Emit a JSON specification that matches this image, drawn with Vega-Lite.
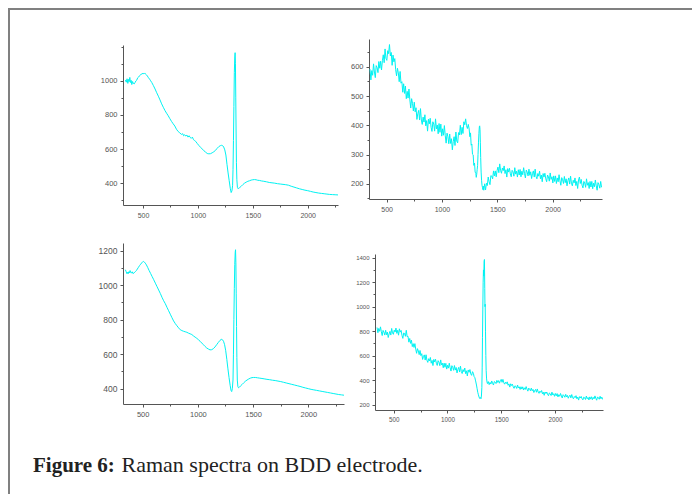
{
"$schema": "https://vega.github.io/schema/vega-lite/v6.json",
"background": "white",
"padding": {"left": 8, "top": 8, "right": 0, "bottom": 0},
"config": {
  "view": {"stroke": null},
  "numberFormat": "d",
  "axis": {"domainColor": "#555", "tickColor": "#555", "labelColor": "#555", "labelFont": "Liberation Sans", "grid": false, "title": null, "tickSize": 3, "labelPadding": 3, "domainWidth": 1, "tickWidth": 1}
},
"datasets": {
"a": [{"x":340,"y":1005},{"x":348,"y":992},{"x":355,"y":1012},{"x":362,"y":985},{"x":368,"y":1008},{"x":374,"y":995},{"x":380,"y":1020},{"x":386,"y":990},{"x":392,"y":1003},{"x":398,"y":978},{"x":405,"y":996},{"x":412,"y":985},{"x":420,"y":982},{"x":428,"y":990},{"x":436,"y":1000},{"x":444,"y":1005},{"x":452,"y":1018},{"x":460,"y":1022},{"x":470,"y":1030},{"x":480,"y":1038},{"x":490,"y":1040},{"x":500,"y":1044},{"x":508,"y":1041},{"x":515,"y":1046},{"x":522,"y":1040},{"x":530,"y":1036},{"x":540,"y":1028},{"x":550,"y":1018},{"x":560,"y":1010},{"x":570,"y":1000},{"x":580,"y":990},{"x":595,"y":972},{"x":610,"y":952},{"x":625,"y":930},{"x":640,"y":910},{"x":655,"y":888},{"x":670,"y":865},{"x":685,"y":845},{"x":700,"y":826},{"x":715,"y":810},{"x":730,"y":795},{"x":745,"y":778},{"x":760,"y":762},{"x":775,"y":748},{"x":790,"y":735},{"x":805,"y":716},{"x":820,"y":703},{"x":835,"y":695},{"x":850,"y":686},{"x":862,"y":690},{"x":870,"y":678},{"x":880,"y":684},{"x":890,"y":676},{"x":900,"y":682},{"x":910,"y":670},{"x":920,"y":678},{"x":930,"y":668},{"x":940,"y":663},{"x":950,"y":670},{"x":960,"y":655},{"x":970,"y":650},{"x":980,"y":645},{"x":995,"y":632},{"x":1010,"y":620},{"x":1025,"y":610},{"x":1040,"y":600},{"x":1055,"y":590},{"x":1070,"y":582},{"x":1085,"y":574},{"x":1100,"y":572},{"x":1115,"y":573},{"x":1130,"y":578},{"x":1145,"y":584},{"x":1160,"y":592},{"x":1175,"y":604},{"x":1190,"y":614},{"x":1205,"y":620},{"x":1215,"y":622},{"x":1225,"y":620},{"x":1235,"y":612},{"x":1245,"y":595},{"x":1255,"y":565},{"x":1265,"y":510},{"x":1275,"y":460},{"x":1285,"y":415},{"x":1295,"y":370},{"x":1303,"y":345},{"x":1310,"y":355},{"x":1316,"y":385},{"x":1320,"y":480},{"x":1324,"y":650},{"x":1328,"y":850},{"x":1332,"y":1050},{"x":1336,"y":1140},{"x":1339,"y":1165},{"x":1342,"y":1100},{"x":1345,"y":900},{"x":1348,"y":700},{"x":1351,"y":520},{"x":1355,"y":420},{"x":1360,"y":375},{"x":1365,"y":368},{"x":1372,"y":370},{"x":1380,"y":374},{"x":1395,"y":382},{"x":1410,"y":392},{"x":1425,"y":400},{"x":1440,"y":406},{"x":1455,"y":411},{"x":1470,"y":414},{"x":1485,"y":418},{"x":1500,"y":420},{"x":1515,"y":421},{"x":1530,"y":420},{"x":1545,"y":417},{"x":1560,"y":416},{"x":1580,"y":413},{"x":1600,"y":411},{"x":1625,"y":408},{"x":1650,"y":404},{"x":1675,"y":402},{"x":1700,"y":400},{"x":1725,"y":397},{"x":1750,"y":395},{"x":1775,"y":393},{"x":1800,"y":391},{"x":1825,"y":388},{"x":1850,"y":382},{"x":1875,"y":377},{"x":1900,"y":372},{"x":1925,"y":367},{"x":1950,"y":363},{"x":1975,"y":359},{"x":2000,"y":356},{"x":2025,"y":352},{"x":2050,"y":348},{"x":2075,"y":345},{"x":2100,"y":342},{"x":2125,"y":340},{"x":2150,"y":338},{"x":2175,"y":336},{"x":2200,"y":334},{"x":2225,"y":333},{"x":2250,"y":332},{"x":2276,"y":331}],
"b": [{"x":350,"y":592},{"x":358,"y":555},{"x":366,"y":587},{"x":374,"y":571},{"x":382,"y":610},{"x":390,"y":582},{"x":398,"y":563},{"x":406,"y":604},{"x":414,"y":597},{"x":422,"y":580},{"x":430,"y":618},{"x":438,"y":595},{"x":446,"y":619},{"x":454,"y":589},{"x":462,"y":621},{"x":470,"y":641},{"x":478,"y":614},{"x":486,"y":661},{"x":494,"y":629},{"x":502,"y":622},{"x":510,"y":655},{"x":518,"y":645},{"x":526,"y":676},{"x":534,"y":637},{"x":542,"y":649},{"x":550,"y":605},{"x":558,"y":640},{"x":566,"y":617},{"x":574,"y":628},{"x":582,"y":590},{"x":590,"y":569},{"x":598,"y":595},{"x":606,"y":579},{"x":614,"y":549},{"x":622,"y":584},{"x":630,"y":544},{"x":638,"y":549},{"x":646,"y":513},{"x":654,"y":542},{"x":662,"y":509},{"x":670,"y":534},{"x":678,"y":491},{"x":686,"y":516},{"x":694,"y":493},{"x":702,"y":524},{"x":710,"y":487},{"x":718,"y":459},{"x":726,"y":491},{"x":734,"y":475},{"x":742,"y":449},{"x":750,"y":479},{"x":758,"y":446},{"x":766,"y":460},{"x":774,"y":420},{"x":782,"y":440},{"x":790,"y":451},{"x":798,"y":418},{"x":806,"y":457},{"x":814,"y":418},{"x":822,"y":403},{"x":830,"y":428},{"x":838,"y":411},{"x":846,"y":436},{"x":854,"y":398},{"x":862,"y":416},{"x":870,"y":380},{"x":878,"y":421},{"x":886,"y":405},{"x":894,"y":424},{"x":902,"y":393},{"x":910,"y":379},{"x":918,"y":412},{"x":926,"y":404},{"x":934,"y":380},{"x":942,"y":422},{"x":950,"y":388},{"x":958,"y":401},{"x":966,"y":371},{"x":974,"y":406},{"x":982,"y":376},{"x":990,"y":404},{"x":998,"y":363},{"x":1006,"y":388},{"x":1014,"y":366},{"x":1022,"y":399},{"x":1030,"y":364},{"x":1038,"y":339},{"x":1046,"y":373},{"x":1054,"y":361},{"x":1062,"y":337},{"x":1070,"y":370},{"x":1078,"y":338},{"x":1086,"y":354},{"x":1094,"y":316},{"x":1102,"y":344},{"x":1110,"y":361},{"x":1118,"y":331},{"x":1126,"y":377},{"x":1134,"y":346},{"x":1142,"y":340},{"x":1150,"y":375},{"x":1158,"y":367},{"x":1166,"y":400},{"x":1174,"y":368},{"x":1182,"y":393},{"x":1190,"y":372},{"x":1198,"y":412},{"x":1206,"y":402},{"x":1214,"y":422},{"x":1222,"y":399},{"x":1230,"y":389},{"x":1238,"y":403},{"x":1246,"y":387},{"x":1252,"y":361},{"x":1258,"y":374},{"x":1264,"y":332},{"x":1270,"y":336},{"x":1276,"y":301},{"x":1282,"y":299},{"x":1288,"y":263},{"x":1294,"y":271},{"x":1300,"y":240},{"x":1306,"y":236},{"x":1310,"y":222},{"x":1314,"y":232},{"x":1318,"y":248},{"x":1322,"y":262},{"x":1326,"y":300},{"x":1330,"y":340},{"x":1334,"y":372},{"x":1338,"y":395},{"x":1341,"y":398},{"x":1344,"y":385},{"x":1347,"y":340},{"x":1350,"y":290},{"x":1354,"y":240},{"x":1358,"y":212},{"x":1362,"y":195},{"x":1366,"y":188},{"x":1370,"y":180},{"x":1374,"y":192},{"x":1378,"y":178},{"x":1386,"y":200},{"x":1394,"y":179},{"x":1402,"y":202},{"x":1410,"y":194},{"x":1418,"y":223},{"x":1426,"y":207},{"x":1434,"y":197},{"x":1442,"y":228},{"x":1450,"y":226},{"x":1458,"y":217},{"x":1466,"y":244},{"x":1474,"y":227},{"x":1482,"y":244},{"x":1490,"y":224},{"x":1498,"y":245},{"x":1506,"y":257},{"x":1514,"y":238},{"x":1522,"y":268},{"x":1530,"y":245},{"x":1538,"y":236},{"x":1546,"y":254},{"x":1554,"y":245},{"x":1562,"y":261},{"x":1570,"y":235},{"x":1578,"y":248},{"x":1586,"y":223},{"x":1594,"y":252},{"x":1602,"y":240},{"x":1610,"y":253},{"x":1618,"y":234},{"x":1626,"y":224},{"x":1634,"y":246},{"x":1642,"y":241},{"x":1650,"y":226},{"x":1658,"y":255},{"x":1666,"y":233},{"x":1674,"y":243},{"x":1682,"y":223},{"x":1690,"y":248},{"x":1698,"y":230},{"x":1706,"y":249},{"x":1714,"y":224},{"x":1722,"y":243},{"x":1730,"y":231},{"x":1738,"y":255},{"x":1746,"y":235},{"x":1754,"y":220},{"x":1762,"y":247},{"x":1770,"y":240},{"x":1778,"y":227},{"x":1786,"y":250},{"x":1794,"y":229},{"x":1802,"y":241},{"x":1810,"y":218},{"x":1818,"y":235},{"x":1826,"y":244},{"x":1834,"y":223},{"x":1842,"y":250},{"x":1850,"y":225},{"x":1858,"y":217},{"x":1866,"y":235},{"x":1874,"y":226},{"x":1882,"y":243},{"x":1890,"y":217},{"x":1898,"y":230},{"x":1906,"y":207},{"x":1914,"y":235},{"x":1922,"y":223},{"x":1930,"y":236},{"x":1938,"y":217},{"x":1946,"y":207},{"x":1954,"y":230},{"x":1962,"y":224},{"x":1970,"y":209},{"x":1978,"y":237},{"x":1986,"y":215},{"x":1994,"y":224},{"x":2002,"y":203},{"x":2010,"y":227},{"x":2018,"y":208},{"x":2026,"y":227},{"x":2034,"y":201},{"x":2042,"y":220},{"x":2050,"y":207},{"x":2058,"y":231},{"x":2066,"y":210},{"x":2074,"y":195},{"x":2082,"y":221},{"x":2090,"y":214},{"x":2098,"y":201},{"x":2106,"y":225},{"x":2114,"y":204},{"x":2122,"y":217},{"x":2130,"y":193},{"x":2138,"y":211},{"x":2146,"y":220},{"x":2154,"y":199},{"x":2162,"y":226},{"x":2170,"y":202},{"x":2178,"y":193},{"x":2186,"y":212},{"x":2194,"y":203},{"x":2202,"y":220},{"x":2210,"y":194},{"x":2218,"y":208},{"x":2226,"y":184},{"x":2234,"y":213},{"x":2242,"y":223},{"x":2250,"y":201},{"x":2258,"y":215},{"x":2266,"y":195},{"x":2274,"y":186},{"x":2282,"y":208},{"x":2290,"y":203},{"x":2298,"y":188},{"x":2306,"y":217},{"x":2314,"y":195},{"x":2322,"y":204},{"x":2330,"y":184},{"x":2338,"y":208},{"x":2346,"y":189},{"x":2354,"y":208},{"x":2362,"y":183},{"x":2370,"y":202},{"x":2378,"y":190},{"x":2386,"y":213},{"x":2394,"y":193},{"x":2402,"y":178},{"x":2410,"y":204},{"x":2418,"y":197},{"x":2426,"y":185},{"x":2434,"y":208},{"x":2442,"y":188}],
"c": [{"x":343,"y":1090},{"x":350,"y":1080},{"x":356,"y":1068},{"x":362,"y":1075},{"x":368,"y":1066},{"x":374,"y":1078},{"x":380,"y":1072},{"x":386,"y":1085},{"x":392,"y":1074},{"x":398,"y":1070},{"x":405,"y":1078},{"x":412,"y":1068},{"x":420,"y":1070},{"x":428,"y":1076},{"x":436,"y":1080},{"x":444,"y":1086},{"x":452,"y":1094},{"x":462,"y":1104},{"x":472,"y":1114},{"x":482,"y":1122},{"x":492,"y":1130},{"x":500,"y":1136},{"x":508,"y":1138},{"x":516,"y":1134},{"x":524,"y":1128},{"x":534,"y":1118},{"x":545,"y":1104},{"x":558,"y":1086},{"x":572,"y":1068},{"x":586,"y":1050},{"x":600,"y":1032},{"x":615,"y":1012},{"x":630,"y":992},{"x":645,"y":972},{"x":660,"y":952},{"x":675,"y":930},{"x":690,"y":910},{"x":705,"y":893},{"x":720,"y":872},{"x":735,"y":852},{"x":750,"y":832},{"x":765,"y":812},{"x":780,"y":793},{"x":795,"y":778},{"x":810,"y":765},{"x":825,"y":753},{"x":840,"y":742},{"x":855,"y":737},{"x":870,"y":733},{"x":885,"y":730},{"x":900,"y":727},{"x":915,"y":722},{"x":930,"y":718},{"x":945,"y":714},{"x":960,"y":706},{"x":975,"y":699},{"x":990,"y":692},{"x":1005,"y":684},{"x":1020,"y":675},{"x":1035,"y":665},{"x":1050,"y":655},{"x":1065,"y":645},{"x":1080,"y":636},{"x":1095,"y":630},{"x":1110,"y":625},{"x":1125,"y":626},{"x":1140,"y":632},{"x":1155,"y":642},{"x":1170,"y":655},{"x":1185,"y":668},{"x":1200,"y":680},{"x":1212,"y":686},{"x":1222,"y":684},{"x":1232,"y":675},{"x":1242,"y":655},{"x":1252,"y":620},{"x":1262,"y":570},{"x":1272,"y":515},{"x":1282,"y":465},{"x":1292,"y":420},{"x":1300,"y":390},{"x":1306,"y":383},{"x":1312,"y":400},{"x":1318,"y":450},{"x":1322,"y":600},{"x":1326,"y":800},{"x":1330,"y":980},{"x":1334,"y":1120},{"x":1338,"y":1190},{"x":1341,"y":1206},{"x":1344,"y":1130},{"x":1347,"y":950},{"x":1350,"y":760},{"x":1353,"y":580},{"x":1357,"y":450},{"x":1362,"y":412},{"x":1368,"y":405},{"x":1375,"y":408},{"x":1385,"y":415},{"x":1400,"y":424},{"x":1415,"y":434},{"x":1430,"y":443},{"x":1445,"y":450},{"x":1460,"y":456},{"x":1475,"y":461},{"x":1490,"y":464},{"x":1505,"y":465},{"x":1520,"y":465},{"x":1540,"y":463},{"x":1560,"y":461},{"x":1580,"y":459},{"x":1600,"y":457},{"x":1625,"y":454},{"x":1650,"y":452},{"x":1675,"y":449},{"x":1700,"y":447},{"x":1725,"y":444},{"x":1750,"y":441},{"x":1775,"y":437},{"x":1800,"y":433},{"x":1825,"y":429},{"x":1850,"y":425},{"x":1875,"y":421},{"x":1900,"y":417},{"x":1925,"y":413},{"x":1950,"y":408},{"x":1975,"y":404},{"x":2000,"y":400},{"x":2025,"y":396},{"x":2050,"y":393},{"x":2075,"y":390},{"x":2100,"y":387},{"x":2125,"y":384},{"x":2150,"y":381},{"x":2175,"y":378},{"x":2200,"y":375},{"x":2225,"y":372},{"x":2250,"y":369},{"x":2275,"y":366},{"x":2300,"y":364},{"x":2323,"y":362}],
"d": [{"x":345,"y":830},{"x":353,"y":787},{"x":361,"y":822},{"x":369,"y":799},{"x":377,"y":835},{"x":385,"y":795},{"x":393,"y":764},{"x":401,"y":806},{"x":409,"y":792},{"x":417,"y":768},{"x":425,"y":807},{"x":433,"y":771},{"x":441,"y":792},{"x":449,"y":748},{"x":457,"y":777},{"x":465,"y":798},{"x":473,"y":768},{"x":481,"y":822},{"x":489,"y":786},{"x":497,"y":774},{"x":505,"y":808},{"x":513,"y":793},{"x":521,"y":825},{"x":529,"y":782},{"x":537,"y":807},{"x":545,"y":767},{"x":553,"y":819},{"x":561,"y":792},{"x":569,"y":806},{"x":577,"y":765},{"x":585,"y":741},{"x":593,"y":785},{"x":601,"y":781},{"x":609,"y":758},{"x":617,"y":807},{"x":625,"y":755},{"x":633,"y":758},{"x":641,"y":710},{"x":649,"y":740},{"x":657,"y":700},{"x":665,"y":726},{"x":673,"y":674},{"x":681,"y":698},{"x":689,"y":667},{"x":697,"y":698},{"x":705,"y":653},{"x":713,"y":619},{"x":721,"y":657},{"x":729,"y":638},{"x":737,"y":608},{"x":745,"y":642},{"x":753,"y":600},{"x":761,"y":616},{"x":769,"y":569},{"x":777,"y":594},{"x":785,"y":606},{"x":793,"y":564},{"x":801,"y":607},{"x":809,"y":562},{"x":817,"y":545},{"x":825,"y":575},{"x":833,"y":557},{"x":841,"y":585},{"x":849,"y":538},{"x":857,"y":561},{"x":865,"y":519},{"x":873,"y":569},{"x":881,"y":549},{"x":889,"y":571},{"x":897,"y":537},{"x":905,"y":520},{"x":913,"y":559},{"x":921,"y":547},{"x":929,"y":518},{"x":937,"y":565},{"x":945,"y":524},{"x":953,"y":538},{"x":961,"y":501},{"x":969,"y":539},{"x":977,"y":505},{"x":985,"y":537},{"x":993,"y":490},{"x":1001,"y":521},{"x":1009,"y":498},{"x":1017,"y":538},{"x":1025,"y":501},{"x":1033,"y":474},{"x":1041,"y":518},{"x":1049,"y":504},{"x":1057,"y":480},{"x":1065,"y":519},{"x":1073,"y":482},{"x":1081,"y":503},{"x":1089,"y":459},{"x":1097,"y":488},{"x":1105,"y":504},{"x":1113,"y":466},{"x":1121,"y":514},{"x":1129,"y":470},{"x":1137,"y":454},{"x":1145,"y":486},{"x":1153,"y":469},{"x":1161,"y":499},{"x":1169,"y":453},{"x":1177,"y":476},{"x":1185,"y":434},{"x":1193,"y":483},{"x":1201,"y":464},{"x":1209,"y":486},{"x":1217,"y":451},{"x":1225,"y":439},{"x":1233,"y":469},{"x":1241,"y":456},{"x":1248,"y":428},{"x":1255,"y":420},{"x":1260,"y":400},{"x":1264,"y":385},{"x":1270,"y":360},{"x":1276,"y":330},{"x":1282,"y":300},{"x":1288,"y":280},{"x":1294,"y":262},{"x":1300,"y":250},{"x":1306,"y":258},{"x":1312,"y":248},{"x":1316,"y":270},{"x":1320,"y":340},{"x":1323,"y":500},{"x":1326,"y":750},{"x":1329,"y":980},{"x":1332,"y":1200},{"x":1335,"y":1300},{"x":1338,"y":1250},{"x":1341,"y":1370},{"x":1344,"y":1385},{"x":1347,"y":1150},{"x":1349,"y":1000},{"x":1351,"y":1020},{"x":1354,"y":800},{"x":1357,"y":600},{"x":1360,"y":480},{"x":1364,"y":410},{"x":1368,"y":385},{"x":1372,"y":372},{"x":1380,"y":388},{"x":1388,"y":363},{"x":1396,"y":381},{"x":1404,"y":368},{"x":1412,"y":393},{"x":1420,"y":374},{"x":1428,"y":360},{"x":1436,"y":388},{"x":1444,"y":383},{"x":1452,"y":372},{"x":1460,"y":398},{"x":1468,"y":381},{"x":1476,"y":396},{"x":1484,"y":375},{"x":1492,"y":395},{"x":1500,"y":406},{"x":1508,"y":382},{"x":1516,"y":406},{"x":1524,"y":379},{"x":1532,"y":367},{"x":1540,"y":383},{"x":1548,"y":372},{"x":1556,"y":386},{"x":1564,"y":358},{"x":1572,"y":369},{"x":1580,"y":343},{"x":1588,"y":370},{"x":1596,"y":356},{"x":1604,"y":367},{"x":1612,"y":345},{"x":1620,"y":333},{"x":1628,"y":354},{"x":1636,"y":348},{"x":1644,"y":332},{"x":1652,"y":360},{"x":1660,"y":336},{"x":1668,"y":345},{"x":1676,"y":324},{"x":1684,"y":346},{"x":1692,"y":327},{"x":1700,"y":345},{"x":1708,"y":319},{"x":1716,"y":337},{"x":1724,"y":324},{"x":1732,"y":347},{"x":1740,"y":326},{"x":1748,"y":310},{"x":1756,"y":335},{"x":1764,"y":326},{"x":1772,"y":313},{"x":1780,"y":335},{"x":1788,"y":313},{"x":1796,"y":324},{"x":1804,"y":299},{"x":1812,"y":316},{"x":1820,"y":324},{"x":1828,"y":301},{"x":1836,"y":328},{"x":1844,"y":302},{"x":1852,"y":292},{"x":1860,"y":310},{"x":1868,"y":300},{"x":1876,"y":315},{"x":1884,"y":288},{"x":1892,"y":301},{"x":1900,"y":276},{"x":1908,"y":303},{"x":1916,"y":291},{"x":1924,"y":303},{"x":1932,"y":282},{"x":1940,"y":273},{"x":1948,"y":295},{"x":1956,"y":289},{"x":1964,"y":274},{"x":1972,"y":302},{"x":1980,"y":279},{"x":1988,"y":289},{"x":1996,"y":268},{"x":2004,"y":291},{"x":2012,"y":272},{"x":2020,"y":290},{"x":2028,"y":263},{"x":2036,"y":281},{"x":2044,"y":268},{"x":2052,"y":291},{"x":2060,"y":270},{"x":2068,"y":254},{"x":2076,"y":281},{"x":2084,"y":273},{"x":2092,"y":260},{"x":2100,"y":284},{"x":2108,"y":263},{"x":2116,"y":275},{"x":2124,"y":252},{"x":2132,"y":268},{"x":2140,"y":277},{"x":2148,"y":255},{"x":2156,"y":282},{"x":2164,"y":257},{"x":2172,"y":248},{"x":2180,"y":266},{"x":2188,"y":257},{"x":2196,"y":273},{"x":2204,"y":248},{"x":2212,"y":261},{"x":2220,"y":237},{"x":2228,"y":265},{"x":2236,"y":254},{"x":2244,"y":267},{"x":2252,"y":248},{"x":2260,"y":239},{"x":2268,"y":261},{"x":2276,"y":256},{"x":2284,"y":242},{"x":2292,"y":270},{"x":2300,"y":248},{"x":2308,"y":258},{"x":2316,"y":238},{"x":2324,"y":263},{"x":2332,"y":245},{"x":2340,"y":264},{"x":2348,"y":240},{"x":2356,"y":259},{"x":2364,"y":247},{"x":2372,"y":271},{"x":2380,"y":251},{"x":2388,"y":236},{"x":2396,"y":263},{"x":2404,"y":256},{"x":2412,"y":244},{"x":2420,"y":268},{"x":2428,"y":248},{"x":2436,"y":261},{"x":2444,"y":242}]
},
"vconcat": [
 {"hconcat": [
  {"width": 1, "height": 1, "data": {"values": [{}]}, "mark": {"type": "text", "text": ""}, "encoding": {}},
  {"hconcat": [
   {"vconcat": [
    {"width": 1, "height": 1, "data": {"values": [{}]}, "mark": {"type": "text", "text": ""}, "encoding": {}},
    {"vconcat": [
     {"width": 215, "height": 160, "data": {"name": "a"},
      "layer": [
       {"mark": {"type": "line", "color": "#00f2f2", "strokeWidth": 1, "clip": true},
        "encoding": {
         "x": {"field": "x", "type": "quantitative", "scale": {"domain": [318, 2276], "nice": false, "zero": false}, "axis": {"values": [500, 1000, 1500, 2000], "labelFontSize": 7}},
         "y": {"field": "y", "type": "quantitative", "scale": {"domain": [272, 1210], "nice": false, "zero": false}, "axis": {"values": [400, 600, 800, 1000], "labelFontSize": 7.5}}}},
       {"mark": {"type": "line", "opacity": 0},
        "encoding": {
         "x": {"field": "x", "type": "quantitative", "scale": {"domain": [318, 2276], "nice": false, "zero": false}, "axis": {"values": [750, 1250, 1750, 2250], "labels": false, "domain": false, "tickSize": 2, "orient": "bottom"}},
         "y": {"field": "y", "type": "quantitative", "scale": {"domain": [272, 1210], "nice": false, "zero": false}, "axis": {"values": [300, 500, 700, 900, 1100, 1200], "labels": false, "domain": false, "tickSize": 2, "orient": "left"}}}}
      ],
      "resolve": {"axis": {"x": "independent", "y": "independent"}}},
     {"width": 221, "height": 161, "data": {"name": "c"},
      "layer": [
       {"mark": {"type": "line", "color": "#00f2f2", "strokeWidth": 1, "clip": true},
        "encoding": {
         "x": {"field": "x", "type": "quantitative", "scale": {"domain": [322, 2323], "nice": false, "zero": false}, "axis": {"values": [500, 1000, 1500, 2000], "labelFontSize": 7.5}},
         "y": {"field": "y", "type": "quantitative", "scale": {"domain": [311, 1245], "nice": false, "zero": false}, "axis": {"values": [400, 600, 800, 1000, 1200], "labelFontSize": 8.5}}}},
       {"mark": {"type": "line", "opacity": 0},
        "encoding": {
         "x": {"field": "x", "type": "quantitative", "scale": {"domain": [322, 2323], "nice": false, "zero": false}, "axis": {"values": [750, 1250, 1750, 2250], "labels": false, "domain": false, "tickSize": 2, "orient": "bottom"}},
         "y": {"field": "y", "type": "quantitative", "scale": {"domain": [311, 1245], "nice": false, "zero": false}, "axis": {"values": [500, 700, 900, 1100], "labels": false, "domain": false, "tickSize": 2, "orient": "left"}}}}
      ],
      "resolve": {"axis": {"x": "independent", "y": "independent"}}}
    ], "spacing": 25}
   ], "spacing": 0, "align": "none"},
   {"vconcat": [
    {"width": 233, "height": 160, "data": {"name": "b"},
     "layer": [
      {"mark": {"type": "line", "color": "#00f2f2", "strokeWidth": 1, "clip": true},
       "encoding": {
        "x": {"field": "x", "type": "quantitative", "scale": {"domain": [341, 2446], "nice": false, "zero": false}, "axis": {"values": [500, 1000, 1500, 2000], "labelFontSize": 7}},
        "y": {"field": "y", "type": "quantitative", "scale": {"domain": [148, 695], "nice": false, "zero": false}, "axis": {"values": [200, 300, 400, 500, 600], "labelFontSize": 7.5}}}},
      {"mark": {"type": "line", "opacity": 0},
       "encoding": {
        "x": {"field": "x", "type": "quantitative", "scale": {"domain": [341, 2446], "nice": false, "zero": false}, "axis": {"values": [750, 1250, 1750, 2250], "labels": false, "domain": false, "tickSize": 2, "orient": "bottom"}},
        "y": {"field": "y", "type": "quantitative", "scale": {"domain": [148, 695], "nice": false, "zero": false}, "axis": {"values": [150, 250, 350, 450, 550, 650], "labels": false, "domain": false, "tickSize": 2, "orient": "left"}}}}
     ],
     "resolve": {"axis": {"x": "independent", "y": "independent"}}},
    {"hconcat": [
     {"width": 1, "height": 1, "data": {"values": [{}]}, "mark": {"type": "text", "text": ""}, "encoding": {}},
     {"width": 228, "height": 156, "data": {"name": "d"},
      "layer": [
       {"mark": {"type": "line", "color": "#00f2f2", "strokeWidth": 1, "clip": true},
        "encoding": {
         "x": {"field": "x", "type": "quantitative", "scale": {"domain": [326, 2447], "nice": false, "zero": false}, "axis": {"values": [500, 1000, 1500, 2000], "labelFontSize": 6.3}},
         "y": {"field": "y", "type": "quantitative", "scale": {"domain": [156, 1430], "nice": false, "zero": false}, "axis": {"values": [200, 400, 600, 800, 1000, 1200, 1400], "labelFontSize": 6}}}},
       {"mark": {"type": "line", "opacity": 0},
        "encoding": {
         "x": {"field": "x", "type": "quantitative", "scale": {"domain": [326, 2447], "nice": false, "zero": false}, "axis": {"values": [750, 1250, 1750, 2250], "labels": false, "domain": false, "tickSize": 2, "orient": "bottom"}},
         "y": {"field": "y", "type": "quantitative", "scale": {"domain": [156, 1430], "nice": false, "zero": false}, "axis": {"values": [300, 500, 700, 900, 1100, 1300], "labels": false, "domain": false, "tickSize": 2, "orient": "left"}}}}
      ],
      "resolve": {"axis": {"x": "independent", "y": "independent"}}}
    ], "spacing": -15, "align": "none"}
   ], "spacing": 36, "align": "none"}
  ], "spacing": 6, "align": "none"}
 ], "spacing": 88, "align": "none"},
 {"width": 683, "height": 485, "data": {"values": [{}]},
  "view": {"stroke": "#808080", "strokeWidth": 2, "strokeDash": [683, 1168, 485], "fill": null},
  "layer": [
   {"mark": {"type": "text", "text": "Figure 6:", "font": "Liberation Serif", "fontSize": 21, "fontWeight": "bold", "align": "left", "baseline": "alphabetic", "color": "#222"}, "encoding": {"x": {"value": 24}, "y": {"value": 463}}},
   {"mark": {"type": "text", "text": "Raman spectra on BDD electrode.", "font": "Liberation Serif", "fontSize": 22, "align": "left", "baseline": "alphabetic", "color": "#222"}, "encoding": {"x": {"value": 112.5}, "y": {"value": 463}}}
  ]}
],
"spacing": -415,
"align": "none"
}
